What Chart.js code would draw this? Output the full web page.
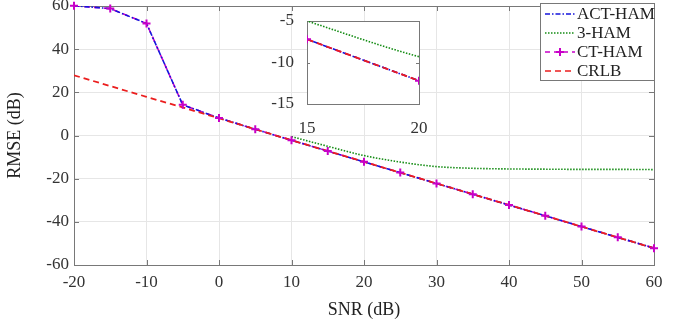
<!DOCTYPE html>
<html>
<head>
<meta charset="utf-8">
<script src="https://cdn.jsdelivr.net/npm/chart.js@4"></script>
<style>
  html, body { margin: 0; padding: 0; background: #fff; }
  #wrap { position: relative; width: 685px; height: 325px; }
  #mainChart { position: absolute; left: 0; top: 0; }
  #insetChart { position: absolute; left: 270px; top: 8px; }
</style>
</head>
<body>
<div id="wrap">
  <canvas id="mainChart" width="685" height="325"></canvas>
  <canvas id="insetChart" width="170" height="125"></canvas>
</div>
<script>
// SNR grid (dB)
const snr = [-20, -15, -10, -5, 0, 5, 10, 15, 20, 25, 30, 35, 40, 45, 50, 55, 60];
const actHam = [60.1, 58.8, 51.9, 14.2, 8.1, 2.9, -2.2, -7.2, -12.2, -17.2, -22.2, -27.2, -32.2, -37.2, -42.2, -47.2, -52.2];
const ctHam  = [60.1, 58.8, 51.9, 14.2, 8.1, 2.9, -2.2, -7.2, -12.2, -17.2, -22.2, -27.2, -32.2, -37.2, -42.2, -47.2, -52.2];
const crlb   = [27.9, 22.9, 17.9, 13.0, 8.0, 2.9, -2.2, -7.2, -12.2, -17.2, -22.2, -27.2, -32.2, -37.2, -42.2, -47.2, -52.2];
const hamSnr = [10, 15, 20, 25, 30, 35, 40, 45, 50, 55, 60];
const ham3   = [-0.5, -5.0, -9.3, -12.3, -14.4, -15.2, -15.5, -15.6, -15.7, -15.7, -15.8];

const xTicks = [-20, -10, 0, 10, 20, 30, 40, 50, 60];
const yTicks = [-60, -40, -20, 0, 20, 40, 60];
const insetXTicks = [15, 20];
const insetYTicks = [-15, -10, -5];

const FONT = "'Liberation Serif', 'Times New Roman', serif";
const BLUE = 'rgb(20,20,220)';
const GREEN = 'rgb(20,140,20)';
const MAGENTA = 'rgb(200,0,200)';
const RED = 'rgb(235,30,30)';
const FRAME = 'rgb(120,120,120)';

function pts(xs, ys) {
    return xs.map((x, i) => ({ x: x, y: ys[i] }));
}

// markerClip: how far markers may spill past the plot box
function makeDatasets(markerClip) {
    return [
        {
            label: 'CT-HAM markers',
            data: pts(snr, ctHam),
            showLine: false,
            pointStyle: 'cross',
            pointRadius: 4,
            pointBorderWidth: 2,
            pointBorderColor: MAGENTA,
            clip: markerClip,
            order: 0
        },
        {
            label: 'CRLB',
            data: pts(snr, crlb),
            borderColor: RED,
            borderWidth: 1.8,
            borderDash: [6, 4],
            pointRadius: 0,
            order: 1
        },
        {
            label: 'ACT-HAM',
            data: pts(snr, actHam),
            borderColor: BLUE,
            borderWidth: 1.6,
            borderDash: [5, 2, 1.5, 2],
            pointRadius: 0,
            order: 2
        },
        {
            label: 'CT-HAM',
            data: pts(snr, ctHam),
            borderColor: MAGENTA,
            borderWidth: 1.6,
            borderDash: [6, 4],
            pointRadius: 0,
            order: 3
        },
        {
            label: '3-HAM',
            data: pts(hamSnr, ham3),
            borderColor: GREEN,
            borderWidth: 1.6,
            borderDash: [1.5, 1.5],
            cubicInterpolationMode: 'monotone',
            pointRadius: 0,
            order: 4
        }
    ];
}

// white plot background + box with inward ticks (MATLAB style)
const framePlugin = {
    id: 'frame',
    beforeDraw(chart, args, opts) {
        if (!opts.fill) return;
        const a = chart.chartArea;
        const ctx = chart.ctx;
        ctx.save();
        ctx.fillStyle = '#fff';
        ctx.fillRect(a.left, a.top, a.right - a.left, a.bottom - a.top);
        ctx.restore();
    },
    beforeDatasetsDraw(chart, args, opts) {
        const a = chart.chartArea;
        const ctx = chart.ctx;
        const xs = chart.scales.x, ys = chart.scales.y;
        const L = opts.tick || 5;
        ctx.save();
        ctx.strokeStyle = FRAME;
        ctx.lineWidth = 1;
        ctx.strokeRect(Math.round(a.left) + 0.5, Math.round(a.top) + 0.5,
            Math.round(a.right - a.left), Math.round(a.bottom - a.top));
        ctx.beginPath();
        opts.xTicks.forEach(v => {
            const px = Math.round(xs.getPixelForValue(v)) + 0.5;
            ctx.moveTo(px, a.bottom); ctx.lineTo(px, a.bottom - L);
            ctx.moveTo(px, a.top); ctx.lineTo(px, a.top + L);
        });
        opts.yTicks.forEach(v => {
            const py = Math.round(ys.getPixelForValue(v)) + 0.5;
            ctx.moveTo(a.left, py); ctx.lineTo(a.left + L, py);
            ctx.moveTo(a.right, py); ctx.lineTo(a.right - L, py);
        });
        ctx.stroke();
        ctx.restore();
    }
};

// legend box drawn by hand so the dash patterns show
const legendPlugin = {
    id: 'matLegend',
    afterDraw(chart) {
        const ctx = chart.ctx;
        const items = [
            { text: 'ACT-HAM', color: BLUE, dash: [5, 2, 1.5, 2] },
            { text: '3-HAM', color: GREEN, dash: [1.5, 1.5] },
            { text: 'CT-HAM', color: MAGENTA, dash: [5, 4], marker: true },
            { text: 'CRLB', color: RED, dash: [6, 4] }
        ];
        const bx = 540.5, by = 3.5, bw = 114, bh = 77;
        ctx.save();
        ctx.fillStyle = '#fff';
        ctx.fillRect(bx, by, bw, bh);
        ctx.strokeStyle = FRAME;
        ctx.lineWidth = 1;
        ctx.strokeRect(bx, by, bw, bh);
        ctx.font = '17px ' + FONT;
        ctx.textBaseline = 'middle';
        items.forEach((it, i) => {
            const y = 14 + i * 19;
            ctx.strokeStyle = it.color;
            ctx.lineWidth = 1.6;
            ctx.setLineDash(it.dash);
            ctx.beginPath();
            ctx.moveTo(545, y); ctx.lineTo(575, y);
            ctx.stroke();
            ctx.setLineDash([]);
            if (it.marker) {
                ctx.lineWidth = 2;
                ctx.beginPath();
                ctx.moveTo(556, y); ctx.lineTo(564, y);
                ctx.moveTo(560, y - 4); ctx.lineTo(560, y + 4);
                ctx.stroke();
            }
            ctx.fillStyle = '#222';
            ctx.fillText(it.text, 577, y + 1);
        });
        ctx.restore();
    }
};

function tickFilter(list) {
    return function(axis) {
        axis.ticks = list.map(v => ({ value: v }));
    };
}

new Chart(document.getElementById('mainChart'), {
    type: 'line',
    data: { datasets: makeDatasets(6) },
    options: {
        responsive: false,
        animation: false,
        layout: { padding: { left: 0, top: 5, right: 31, bottom: 0 } },
        plugins: {
            legend: { display: false },
            tooltip: { enabled: false },
            frame: { xTicks: xTicks, yTicks: yTicks, tick: 5, fill: false }
        },
        scales: {
            x: {
                type: 'linear',
                min: -20, max: 60,
                afterBuildTicks: tickFilter(xTicks),
                afterFit(scale) { scale.height = 60; scale.paddingLeft = 0; scale.paddingRight = 0; },
                grid: { color: 'rgb(230,230,230)', drawTicks: false },
                border: { display: false },
                ticks: { color: '#333', padding: 7, font: { family: FONT, size: 17 } },
                title: { display: true, text: 'SNR (dB)', color: '#222', padding: { top: 2 },
                    font: { family: FONT, size: 18 } }
            },
            y: {
                type: 'linear',
                min: -60, max: 60,
                afterBuildTicks: tickFilter(yTicks),
                afterFit(scale) { scale.width = 74; scale.paddingTop = 0; scale.paddingBottom = 0; },
                grid: { color: 'rgb(230,230,230)', drawTicks: false },
                border: { display: false },
                ticks: { color: '#333', padding: 5, font: { family: FONT, size: 17 } },
                title: { display: true, text: 'RMSE (dB)', color: '#222', padding: { bottom: 6 },
                    font: { family: FONT, size: 18 } }
            }
        }
    },
    plugins: [framePlugin, legendPlugin]
});

new Chart(document.getElementById('insetChart'), {
    type: 'line',
    data: { datasets: makeDatasets(0) },
    options: {
        responsive: false,
        animation: false,
        layout: { padding: { left: 0, top: 13, right: 21, bottom: 0 } },
        plugins: {
            legend: { display: false },
            tooltip: { enabled: false },
            frame: { xTicks: insetXTicks, yTicks: insetYTicks, tick: 3, fill: true }
        },
        scales: {
            x: {
                type: 'linear',
                min: 15, max: 20,
                afterBuildTicks: tickFilter(insetXTicks),
                afterFit(scale) { scale.height = 29; scale.paddingLeft = 0; scale.paddingRight = 0; },
                grid: { display: false },
                border: { display: false },
                ticks: { color: '#333', padding: 6, font: { family: FONT, size: 17 } }
            },
            y: {
                type: 'linear',
                min: -15, max: -5,
                afterBuildTicks: tickFilter(insetYTicks),
                afterFit(scale) { scale.width = 37; scale.paddingTop = 0; scale.paddingBottom = 0; },
                grid: { display: false },
                border: { display: false },
                ticks: { color: '#333', padding: 5, font: { family: FONT, size: 17 } }
            }
        }
    },
    plugins: [framePlugin]
});
</script>
</body>
</html>
